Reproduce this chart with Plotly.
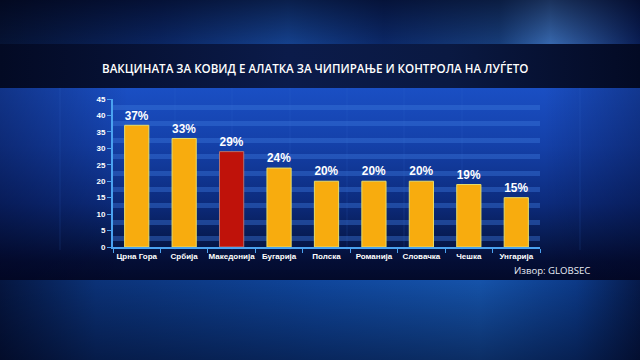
import base64
import plotly.graph_objects as go

# ---- data ----
countries = ["Црна Гора", "Србија", "Македонија", "Бугарија", "Полска",
             "Романија", "Словачка", "Чешка", "Унгарија"]
values = [37, 33, 29, 24, 20, 20, 20, 19, 15]
highlight = "Македонија"
y_ticks = [0, 5, 10, 15, 20, 25, 30, 35, 40, 45]
title_text = "ВАКЦИНАТА ЗА КОВИД Е АЛАТКА ЗА ЧИПИРАЊЕ И КОНТРОЛА НА ЛУЃЕТО"
source_text = "Извор: GLOBSEC"

ORANGE = "#f8ac0e"
RED = "#bf120a"
bar_colors = [RED if c == highlight else ORANGE for c in countries]
line_colors = ["#b07070" if c == highlight else "#e6dc6a" for c in countries]

# ---- background (decorative gradients) ----
svg = """<svg xmlns='http://www.w3.org/2000/svg' width='640' height='360' viewBox='0 0 640 360' preserveAspectRatio='none'>
<defs>
<linearGradient id='top' x1='0' x2='1' y1='0' y2='0'>
<stop offset='0' stop-color='#061436'/><stop offset='0.25' stop-color='#0b2766'/>
<stop offset='0.45' stop-color='#164595'/><stop offset='0.6' stop-color='#0c2a6c'/>
<stop offset='0.78' stop-color='#18407f'/><stop offset='0.86' stop-color='#3a6eb8'/>
<stop offset='1' stop-color='#0a1f58'/></linearGradient>
<linearGradient id='topv' x1='0' x2='0' y1='0' y2='1'>
<stop offset='0' stop-color='#000010' stop-opacity='0.55'/><stop offset='1' stop-color='#000010' stop-opacity='0.05'/></linearGradient>
<linearGradient id='band' x1='0' x2='1' y1='0' y2='0'>
<stop offset='0' stop-color='#030a24'/><stop offset='0.45' stop-color='#0b1b4a'/>
<stop offset='0.7' stop-color='#0a1942'/><stop offset='1' stop-color='#030a24'/></linearGradient>
<linearGradient id='panel' x1='0' x2='0' y1='0' y2='1'>
<stop offset='0' stop-color='#1a4fc4'/><stop offset='0.3' stop-color='#1440a8'/>
<stop offset='0.6' stop-color='#0c2b7c'/><stop offset='0.78' stop-color='#071b52'/>
<stop offset='0.9' stop-color='#040e36'/><stop offset='1' stop-color='#030a2a'/></linearGradient>
<linearGradient id='panelh' x1='0' x2='1' y1='0' y2='0'>
<stop offset='0' stop-color='#000018' stop-opacity='0.35'/><stop offset='0.2' stop-color='#000018' stop-opacity='0'/>
<stop offset='0.85' stop-color='#000018' stop-opacity='0'/><stop offset='1' stop-color='#000018' stop-opacity='0.3'/></linearGradient>
<linearGradient id='bot' x1='0' x2='1' y1='0' y2='0'>
<stop offset='0' stop-color='#051640'/><stop offset='0.15' stop-color='#0b3278'/>
<stop offset='0.5' stop-color='#0f469c'/><stop offset='0.75' stop-color='#1553aa'/>
<stop offset='0.9' stop-color='#0c3a88'/><stop offset='1' stop-color='#061a4a'/></linearGradient>
<linearGradient id='botv' x1='0' x2='0' y1='0' y2='1'>
<stop offset='0' stop-color='#000010' stop-opacity='0'/><stop offset='1' stop-color='#000010' stop-opacity='0.45'/></linearGradient>
</defs>
<rect x='0' y='0' width='640' height='45' fill='url(#top)'/>
<rect x='0' y='0' width='640' height='45' fill='url(#topv)'/>
<rect x='0' y='44' width='640' height='45' fill='url(#band)'/>
<rect x='0' y='88' width='640' height='192' fill='url(#panel)'/>
<rect x='0' y='88' width='640' height='192' fill='url(#panelh)'/>
<g stroke='#3a70d0' stroke-opacity='0.18' stroke-width='1'>
<line x1='60' y1='88' x2='60' y2='250'/><line x1='175' y1='88' x2='175' y2='250'/>
<line x1='232' y1='88' x2='232' y2='250'/><line x1='290' y1='88' x2='290' y2='250'/>
<line x1='347' y1='88' x2='347' y2='250'/><line x1='404' y1='88' x2='404' y2='250'/>
<line x1='462' y1='88' x2='462' y2='250'/><line x1='580' y1='88' x2='580' y2='250'/>
</g>
<rect x='0' y='280' width='640' height='80' fill='url(#bot)'/>
<rect x='0' y='280' width='640' height='80' fill='url(#botv)'/>
</svg>"""
bg_uri = "data:image/svg+xml;base64," + base64.b64encode(svg.encode("utf-8")).decode("ascii")

fig = go.Figure()
fig.add_trace(go.Bar(
    x=countries, y=values,
    marker=dict(color=bar_colors, line=dict(color=line_colors, width=1)),
    text=[f"{v}%" for v in values],
    textposition="outside",
    textfont=dict(family="Liberation Sans, Arial, sans-serif", size=13, color="white", weight="bold"),
    cliponaxis=False,
    hoverinfo="skip",
))

W, H = 640, 360
fig.update_layout(
    width=W, height=H, autosize=False,
    margin=dict(l=0, r=0, t=0, b=0),
    paper_bgcolor="#0a2060",
    plot_bgcolor="rgba(0,0,0,0)",
    showlegend=False,
    bargap=0.49,
    images=[dict(source=bg_uri, xref="paper", yref="paper", x=0, y=1,
                 sizex=1, sizey=1, sizing="stretch", layer="below",
                 xanchor="left", yanchor="top")],
    xaxis=dict(
        domain=[113 / W, 540 / W],
        range=[-0.5, len(countries) - 0.5],
        showgrid=False, zeroline=False,
        showline=True, linecolor="#4aa2f0", linewidth=2,
        ticks="outside", tickson="boundaries", ticklen=4, tickcolor="#4aa2f0", tickwidth=1,
        tickangle=0,
        tickfont=dict(family="Liberation Sans, Arial, sans-serif", size=8, color="white", weight="bold"),
        automargin=False,
    ),
    yaxis=dict(
        domain=[1 - 247 / H, 1 - 99 / H],
        range=[0, 45],
        tickvals=y_ticks,
        showgrid=False, zeroline=False,
        showline=True, linecolor="#4aa2f0", linewidth=2,
        ticks="outside", ticklen=4, tickcolor="#4aa2f0", tickwidth=1,
        tickfont=dict(family="Liberation Sans, Arial, sans-serif", size=8, color="white", weight="bold"),
        minor=dict(tick0=2.5, dtick=5, showgrid=True, gridcolor="rgba(60,120,220,0.42)", gridwidth=4.5,
                   ticks=""),
        automargin=False,
    ),
    annotations=[
        dict(text=title_text, xref="paper", yref="paper", x=100 / W, y=1 - 68 / H,
             xanchor="left", yanchor="middle", showarrow=False,
             font=dict(family="Open Sans, sans-serif", size=11.6, color="white", weight=600)),
        dict(text=source_text, xref="paper", yref="paper", x=592 / W, y=1 - 270 / H,
             xanchor="right", yanchor="middle", showarrow=False,
             font=dict(family="Open Sans, sans-serif", size=9.6, color="#e8ecf6")),
    ],
)

fig.write_html("out.html", config={"displayModeBar": False},
               post_script="document.body.style.margin='0';document.body.style.overflow='hidden';")
